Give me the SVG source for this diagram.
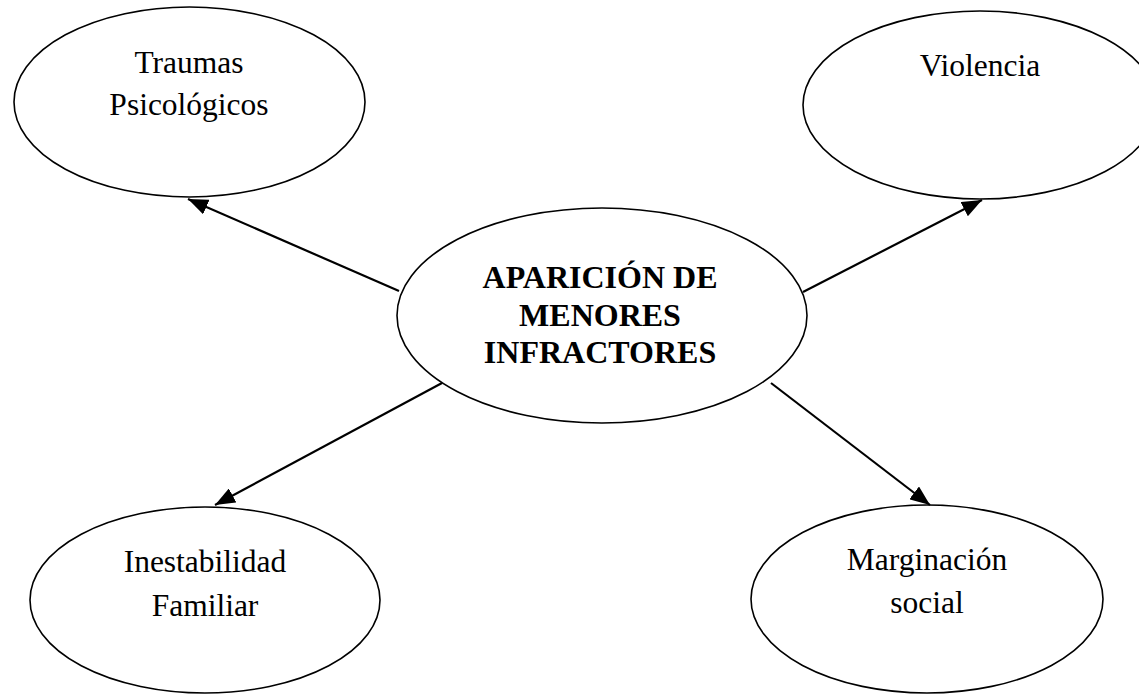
<svg xmlns="http://www.w3.org/2000/svg" width="1139" height="696" viewBox="0 0 1139 696">
<style>
.node ellipse{fill:#fff;stroke:#000;stroke-width:1.6}
.lbl{font-family:"Liberation Serif","Times New Roman",serif;font-size:31.5px;fill:#000;text-anchor:middle}
.bold{font-weight:bold;font-size:32px}
.conn line{stroke:#000;stroke-width:2.2}
</style>
<defs>
<marker id="ah" markerUnits="userSpaceOnUse" markerWidth="20" markerHeight="16" viewBox="0 0 20 16" refX="20" refY="8" orient="auto">
<path d="M0,0 L20,8 L0,16 Z" fill="#000"/>
</marker>
</defs>
<rect width="1139" height="696" fill="#fff"/>
<g id="traumas" class="node">
<ellipse cx="189.5" cy="102" rx="175.5" ry="95"/>
<text class="lbl" x="189" y="73">Traumas</text>
<text class="lbl" x="189" y="115">Psicológicos</text>
</g>
<g id="violencia" class="node">
<ellipse cx="980" cy="105" rx="177" ry="94"/>
<text class="lbl" x="980" y="76">Violencia</text>
</g>
<g id="central" class="node">
<ellipse cx="602" cy="315.5" rx="205" ry="107.5"/>
<text class="lbl bold" x="600" y="288">APARICIÓN DE</text>
<text class="lbl bold" x="600" y="326">MENORES</text>
<text class="lbl bold" x="600" y="363">INFRACTORES</text>
</g>
<g id="inestabilidad" class="node">
<ellipse cx="205" cy="600" rx="175" ry="93"/>
<text class="lbl" x="205" y="572">Inestabilidad</text>
<text class="lbl" x="205" y="616">Familiar</text>
</g>
<g id="marginacion" class="node">
<ellipse cx="927" cy="599" rx="176" ry="94"/>
<text class="lbl" x="927" y="570">Marginación</text>
<text class="lbl" x="927" y="613">social</text>
</g>
<g id="connectors" class="conn">
<line x1="399" y1="291" x2="188" y2="199" marker-end="url(#ah)"/>
<line x1="803" y1="292" x2="982" y2="200" marker-end="url(#ah)"/>
<line x1="442" y1="383" x2="215" y2="505" marker-end="url(#ah)"/>
<line x1="771" y1="383" x2="930" y2="505" marker-end="url(#ah)"/>
</g>
</svg>
